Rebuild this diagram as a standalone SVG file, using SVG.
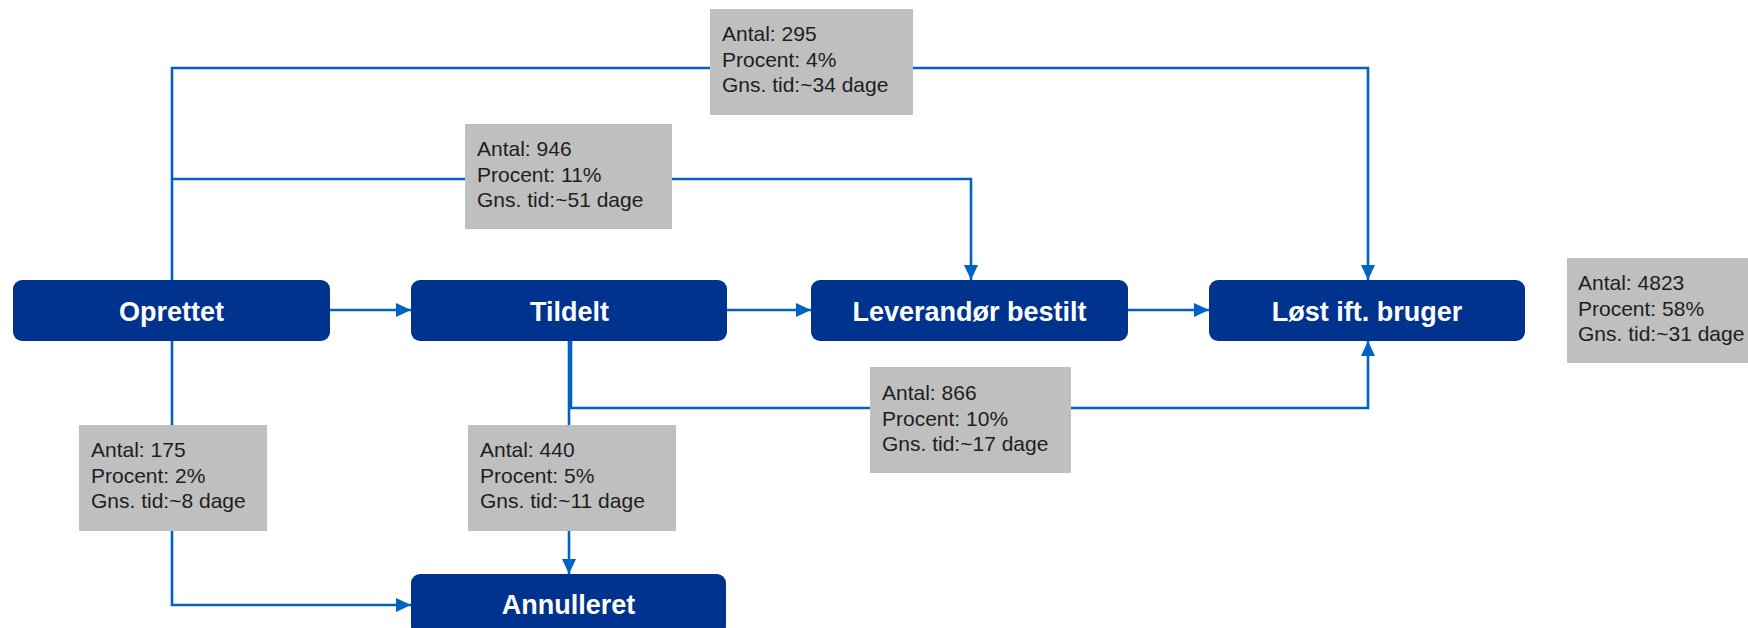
<svg xmlns="http://www.w3.org/2000/svg" width="1748" height="628" viewBox="0 0 1748 628">
  <style>
    .node rect { fill: #00338D; }
    .node text { font-family: "Liberation Sans", Arial, sans-serif; font-weight: bold; font-size: 27px; fill: #ffffff; text-anchor: middle; }
    .edge { fill: none; stroke: #0063C3; stroke-width: 2.6; }
    .label rect { fill: #BFBFBF; }
    .label text { font-family: "Liberation Sans", Arial, sans-serif; font-size: 21px; fill: #1e1e1e; }
  </style>
  <defs>
    <marker id="arrow" markerUnits="userSpaceOnUse" markerWidth="15" markerHeight="14" refX="15" refY="7" orient="auto">
      <path d="M0,0 L15,7 L0,14 z" fill="#0063C3"/>
    </marker>
  </defs>
  <rect width="1748" height="628" fill="#ffffff"/>

  <!-- connectors -->
  <g id="connectors">
    <path class="edge" d="M330,310 H411" marker-end="url(#arrow)"/>
    <path class="edge" d="M727,310 H811" marker-end="url(#arrow)"/>
    <path class="edge" d="M1127,310 H1209" marker-end="url(#arrow)"/>
    <path class="edge" d="M172,280 V68 H1368 V280" marker-end="url(#arrow)"/>
    <path class="edge" d="M172,179 H971 V280" marker-end="url(#arrow)"/>
    <path class="edge" d="M571,341 V408 H1368 V341" marker-end="url(#arrow)"/>
    <path class="edge" d="M569,341 V574" marker-end="url(#arrow)"/>
    <path class="edge" d="M172,341 V605 H411" marker-end="url(#arrow)"/>
  </g>

  <!-- transition labels -->
  <g id="label-opr-loest" class="label">
    <rect x="710" y="9" width="203" height="106"/>
    <text x="722" y="41">Antal: 295<tspan x="722" dy="25.5">Procent: 4%</tspan><tspan x="722" dy="25.5">Gns. tid:~34 dage</tspan></text>
  </g>
  <g id="label-opr-lev" class="label">
    <rect x="465" y="124" width="207" height="105"/>
    <text x="477" y="156">Antal: 946<tspan x="477" dy="25.5">Procent: 11%</tspan><tspan x="477" dy="25.5">Gns. tid:~51 dage</tspan></text>
  </g>
  <g id="label-til-loest" class="label">
    <rect x="870" y="367" width="201" height="106"/>
    <text x="882" y="400">Antal: 866<tspan x="882" dy="25.5">Procent: 10%</tspan><tspan x="882" dy="25.5">Gns. tid:~17 dage</tspan></text>
  </g>
  <g id="label-opr-ann" class="label">
    <rect x="79" y="425" width="188" height="106"/>
    <text x="91" y="457">Antal: 175<tspan x="91" dy="25.5">Procent: 2%</tspan><tspan x="91" dy="25.5">Gns. tid:~8 dage</tspan></text>
  </g>
  <g id="label-til-ann" class="label">
    <rect x="468" y="425" width="208" height="106"/>
    <text x="480" y="457">Antal: 440<tspan x="480" dy="25.5">Procent: 5%</tspan><tspan x="480" dy="25.5">Gns. tid:~11 dage</tspan></text>
  </g>
  <g id="label-loest" class="label">
    <rect x="1567" y="258" width="190" height="105"/>
    <text x="1578" y="290">Antal: 4823<tspan x="1578" dy="25.5">Procent: 58%</tspan><tspan x="1578" dy="25.5">Gns. tid:~31 dage</tspan></text>
  </g>

  <!-- states -->
  <g id="oprettet" class="node">
    <rect x="13" y="280" width="317" height="61" rx="9"/>
    <text x="171.5" y="320.5">Oprettet</text>
  </g>
  <g id="tildelt" class="node">
    <rect x="411" y="280" width="316" height="61" rx="9"/>
    <text x="569.5" y="320.5">Tildelt</text>
  </g>
  <g id="leverandoer-bestilt" class="node">
    <rect x="811" y="280" width="317" height="61" rx="9"/>
    <text x="969.5" y="320.5">Leverandør bestilt</text>
  </g>
  <g id="loest-ift-bruger" class="node">
    <rect x="1209" y="280" width="316" height="61" rx="9"/>
    <text x="1367" y="320.5">Løst ift. bruger</text>
  </g>
  <g id="annulleret" class="node">
    <rect x="411" y="574" width="315" height="61" rx="9"/>
    <text x="568.5" y="614">Annulleret</text>
  </g>
</svg>
